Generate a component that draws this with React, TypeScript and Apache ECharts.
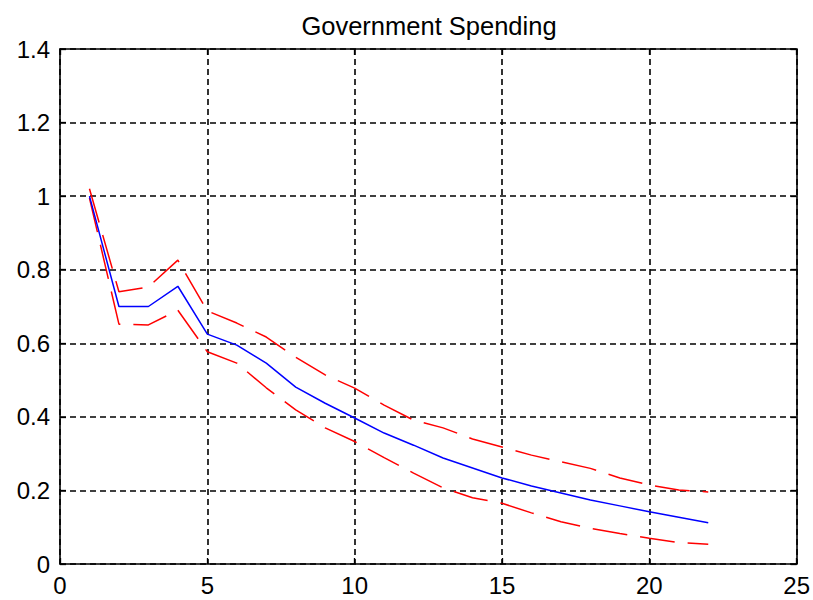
import React, { useEffect, useRef } from "react";
import * as echarts from "echarts";

// Horizon (periods) and impulse response with its confidence band
const periods = [1, 2, 3, 4, 5, 6, 7, 8, 9, 10, 11, 12, 13, 14, 15, 16, 17, 18, 19, 20, 21, 22];
const response = [1.0, 0.70, 0.70, 0.755, 0.625, 0.595, 0.546, 0.481, 0.437, 0.397, 0.356, 0.323, 0.288, 0.261, 0.234, 0.212, 0.193, 0.174, 0.158, 0.142, 0.127, 0.112];
const upperBand = [1.02, 0.74, 0.753, 0.826, 0.688, 0.655, 0.617, 0.562, 0.514, 0.478, 0.432, 0.391, 0.37, 0.34, 0.318, 0.296, 0.278, 0.26, 0.234, 0.215, 0.201, 0.196];
const lowerBand = [0.995, 0.652, 0.65, 0.69, 0.577, 0.546, 0.479, 0.419, 0.37, 0.333, 0.289, 0.247, 0.207, 0.18, 0.165, 0.139, 0.115, 0.097, 0.083, 0.07, 0.058, 0.054];

const titleText = "Government Spending";
const xMin = 0, xMax = 25, xStep = 5;
const yMin = 0, yMax = 1.4, yStep = 0.2;

const FONT = "'Liberation Sans', Arial, sans-serif";

const pairs = (ys: number[]) => periods.map((p, i) => [p, ys[i]]);

export default function App() {
  const ref = useRef<HTMLDivElement>(null);

  useEffect(() => {
    if (!ref.current) return;
    const chart = echarts.init(ref.current, undefined, { renderer: "svg" });

    const gridLine = { show: true, lineStyle: { color: "#000", width: 1.6, type: [6, 4] as any } };
    const frame = { show: true, onZero: false, lineStyle: { color: "#000", width: 1.6 } };
    const innerTick = { show: true, inside: true, length: 6, lineStyle: { color: "#000", width: 1.3 } };
    const label = { fontFamily: FONT, fontSize: 24, color: "#000" };

    chart.setOption({
      animation: false,
      backgroundColor: "#fff",
      title: {
        text: titleText,
        left: 424,
        textAlign: "center",
        top: 8,
        textStyle: { fontFamily: FONT, fontSize: 25.5, fontWeight: "normal", color: "#000" },
      },
      grid: { left: 60, right: 16, top: 49, bottom: 36, containLabel: false },
      xAxis: [
        {
          type: "value", min: xMin, max: xMax, interval: xStep, position: "bottom",
          axisLine: frame, axisTick: innerTick, splitLine: gridLine,
          axisLabel: { ...label, margin: 9 },
        },
        {
          type: "value", min: xMin, max: xMax, interval: xStep, position: "top",
          axisLine: frame, axisTick: innerTick, splitLine: { show: false },
          axisLabel: { show: false },
        },
      ],
      yAxis: [
        {
          type: "value", min: yMin, max: yMax, interval: yStep, position: "left",
          axisLine: frame, axisTick: innerTick, splitLine: gridLine,
          axisLabel: { ...label, margin: 10 },
        },
        {
          type: "value", min: yMin, max: yMax, interval: yStep, position: "right",
          axisLine: frame, axisTick: innerTick, splitLine: { show: false },
          axisLabel: { show: false },
        },
      ],
      series: [
        {
          type: "line", data: pairs(upperBand), symbol: "none",
          lineStyle: { color: "#ff0000", width: 1.5, type: [35, 13] as any },
        },
        {
          type: "line", data: pairs(lowerBand), symbol: "none",
          lineStyle: { color: "#ff0000", width: 1.5, type: [35, 13] as any },
        },
        {
          type: "line", data: pairs(response), symbol: "none",
          lineStyle: { color: "#0000ff", width: 1.5 },
        },
      ],
    });

    return () => chart.dispose();
  }, []);

  return (
    <div
      ref={ref}
      style={{ position: "fixed", left: 0, top: 0, width: 813, height: 600, background: "#fff" }}
    />
  );
}
